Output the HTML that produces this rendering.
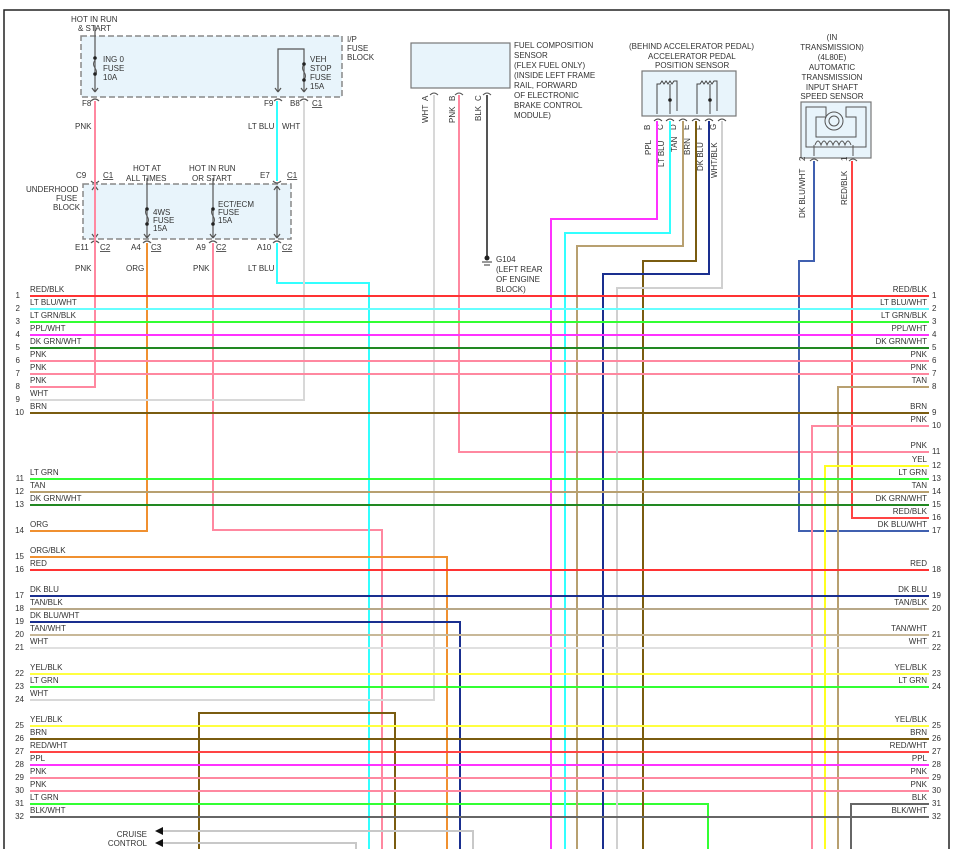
<!DOCTYPE html>
<html><head><meta charset="utf-8"><style>
html,body{margin:0;padding:0;background:#fff;}
svg{display:block;font-family:"Liberation Sans",sans-serif;}
text{fill:#333;font-size:8px;}
.r{text-anchor:end;}
.c{text-anchor:middle;}
</style></head><body>
<svg width="954" height="849" viewBox="0 0 954 849" xmlns="http://www.w3.org/2000/svg">
<rect x="4" y="10" width="945" height="845" fill="none" stroke="#222" stroke-width="1.5"/>

<!-- fuse blocks -->
<rect x="81" y="36" width="261" height="61" fill="#e8f4fb" stroke="#888" stroke-width="1.5" stroke-dasharray="6,3"/>
<rect x="83" y="184" width="208" height="55" fill="#e8f4fb" stroke="#888" stroke-width="1.5" stroke-dasharray="6,3"/>
<g fill="none" stroke="#555" stroke-width="1.2">
<path d="M95 26V92M95 92l-3-4M95 92l3-4"/>
<path d="M278 92V49H304V92M278 92l-3-4M278 92l3-4M304 92l-3-4M304 92l3-4"/>
<path d="M95 186V238M95 186l-3 4M95 186l3 4M95 238l-3-4M95 238l3-4"/>
<path d="M147 178V238M147 238l-3-4M147 238l3-4"/>
<path d="M213 178V238M213 238l-3-4M213 238l3-4"/>
<path d="M277 186V238M277 186l-3 4M277 186l3 4M277 238l-3-4M277 238l3-4"/>
<path d="M91 101q4-4 8 0M274 101q4-4 8 0M300 101q4-4 8 0M91 181q4 4 8 0M273 181q4 4 8 0M91 243q4-4 8 0M143 243q4-4 8 0M209 243q4-4 8 0M273 243q4-4 8 0"/>
</g>
<g fill="#fff" stroke="#555" stroke-width="1">
<path d="M95 60q-3 4 0 8q3 4 0 8" fill="none"/><path d="M304 64q-3 4 0 8q3 4 0 8" fill="none"/>
<path d="M147 208q-3 4 0 8q3 4 0 8" fill="none"/><path d="M213 208q-3 4 0 8q3 4 0 8" fill="none"/>
</g>
<g fill="#222"><circle cx="95" cy="58" r="1.8"/><circle cx="95" cy="74" r="1.8"/><circle cx="304" cy="64" r="1.8"/><circle cx="304" cy="80" r="1.8"/>
<circle cx="147" cy="209" r="1.8"/><circle cx="147" cy="224" r="1.8"/><circle cx="213" cy="209" r="1.8"/><circle cx="213" cy="224" r="1.8"/></g>
<text x="71" y="22">HOT IN RUN</text><text x="78" y="31">&amp; START</text>
<text x="103" y="62">ING 0</text><text x="103" y="71">FUSE</text><text x="103" y="80">10A</text>
<text x="310" y="62">VEH</text><text x="310" y="71">STOP</text><text x="310" y="80">FUSE</text><text x="310" y="89">15A</text>
<text x="347" y="42">I/P</text><text x="347" y="51">FUSE</text><text x="347" y="60">BLOCK</text>
<text x="82" y="106">F8</text><text x="264" y="106">F9</text><text x="290" y="106">B8</text><text x="312" y="106" text-decoration="underline">C1</text>
<text x="75" y="129">PNK</text><text x="248" y="129">LT BLU</text><text x="282" y="129">WHT</text>
<text x="76" y="178">C9</text><text x="103" y="178" text-decoration="underline">C1</text>
<text x="133" y="171">HOT AT</text><text x="126" y="181">ALL TIMES</text>
<text x="189" y="171">HOT IN RUN</text><text x="192" y="181">OR START</text>
<text x="260" y="178">E7</text><text x="287" y="178" text-decoration="underline">C1</text>
<text x="26" y="192">UNDERHOOD</text><text x="56" y="201">FUSE</text><text x="53" y="210">BLOCK</text>
<text x="153" y="215">4WS</text><text x="153" y="223">FUSE</text><text x="153" y="231">15A</text>
<text x="218" y="207">ECT/ECM</text><text x="218" y="215">FUSE</text><text x="218" y="223">15A</text>
<text x="75" y="250">E11</text><text x="100" y="250" text-decoration="underline">C2</text>
<text x="131" y="250">A4</text><text x="151" y="250" text-decoration="underline">C3</text>
<text x="196" y="250">A9</text><text x="216" y="250" text-decoration="underline">C2</text>
<text x="257" y="250">A10</text><text x="282" y="250" text-decoration="underline">C2</text>
<text x="75" y="271">PNK</text><text x="126" y="271">ORG</text><text x="193" y="271">PNK</text><text x="248" y="271">LT BLU</text>

<!-- fuel comp sensor -->
<rect x="411" y="43" width="99" height="45" fill="#e8f4fb" stroke="#777" stroke-width="1.2"/>
<text x="514" y="48">FUEL COMPOSITION</text><text x="514" y="58">SENSOR</text><text x="514" y="68">(FLEX FUEL ONLY)</text>
<text x="514" y="78">(INSIDE LEFT FRAME</text><text x="514" y="88">RAIL, FORWARD</text><text x="514" y="98">OF ELECTRONIC</text>
<text x="514" y="108">BRAKE CONTROL</text><text x="514" y="118">MODULE)</text>
<g fill="none" stroke="#555" stroke-width="1"><path d="M430 95q4-4 8 0M455 95q4-4 8 0M483 95q4-4 8 0"/></g>
<g transform="rotate(-90)"><text x="-123" y="428">WHT</text><text x="-101" y="428">A</text>
<text x="-123" y="455">PNK</text><text x="-101" y="455">B</text>
<text x="-121" y="481">BLK</text><text x="-101" y="481">C</text></g>
<path d="M487 95V256" stroke="#555" stroke-width="2" fill="none"/>
<circle cx="487" cy="258" r="2.5" fill="#222"/><path d="M482 262h10M484 265h6" stroke="#333"/>
<text x="496" y="262">G104</text><text x="496" y="272">(LEFT REAR</text><text x="496" y="282">OF ENGINE</text><text x="496" y="292">BLOCK)</text>

<!-- APP sensor -->
<text x="629" y="49">(BEHIND ACCELERATOR PEDAL)</text>
<text x="648" y="59">ACCELERATOR PEDAL</text><text x="655" y="68">POSITION SENSOR</text>
<rect x="642" y="71" width="94" height="45" fill="#e8f4fb" stroke="#777" stroke-width="1.2"/>
<g fill="none" stroke="#444" stroke-width="1">
<path d="M657 114V84h3l2-3 2 3 2-3 2 3 2-3 2 3 2-3h3v30M670 114V84"/>
<path d="M697 114V84h3l2-3 2 3 2-3 2 3 2-3 2 3 2-3h3v30M710 114V84"/>
<path d="M654 121q4-4 8 0M666 121q4-4 8 0M679 121q4-4 8 0M692 121q4-4 8 0M705 121q4-4 8 0M718 121q4-4 8 0"/>
</g>
<circle cx="670" cy="100" r="1.8" fill="#222"/><circle cx="710" cy="100" r="1.8" fill="#222"/>
<g transform="rotate(-90)"><text x="-130" y="650">B</text><text x="-130" y="663">C</text><text x="-130" y="676">D</text><text x="-130" y="689">E</text><text x="-130" y="702">F</text><text x="-130" y="716">G</text>
<text x="-155" y="651">PPL</text><text x="-167" y="664">LT BLU</text><text x="-152" y="677">TAN</text><text x="-155" y="690">BRN</text><text x="-171" y="703">DK BLU</text><text x="-178" y="717">WHT/BLK</text></g>

<!-- trans sensor -->
<text x="832" y="40" class="c">(IN</text><text x="832" y="50" class="c">TRANSMISSION)</text><text x="832" y="60" class="c">(4L80E)</text>
<text x="832" y="70" class="c">AUTOMATIC</text><text x="832" y="80" class="c">TRANSMISSION</text><text x="832" y="90" class="c">INPUT SHAFT</text><text x="832" y="99" class="c">SPEED SENSOR</text>
<rect x="801" y="102" width="70" height="56" fill="#e8f4fb" stroke="#777" stroke-width="1.2"/>
<g fill="none" stroke="#555" stroke-width="1">
<path d="M806 107h20v10h-10v20h40v-20h-10v-10h20v40h-60z"/>
<circle cx="834" cy="121" r="9"/><circle cx="834" cy="121" r="5"/>
<path d="M815 145q3-8 6 0q3-8 6 0q3-8 6 0q3-8 6 0q3-8 6 0q3-8 6 0"/>
<path d="M814 145V156M853 145V156M810 161q4-4 8 0M849 161q4-4 8 0"/>
</g>
<g transform="rotate(-90)"><text x="-161" y="805">2</text><text x="-161" y="847">1</text>
<text x="-218" y="805">DK BLU/WHT</text><text x="-205" y="847">RED/BLK</text></g>

<!-- vertical wires -->
<g fill="none" stroke-width="2">
<path d="M95 101V387H30" stroke="#ff88a0"/>
<path d="M147 243V531H30" stroke="#f09030"/>
<path d="M213 243V530H382V849" stroke="#ff88a0"/>
<path d="M277 101V181" stroke="#33ffff"/>
<path d="M277 243V283H369V849" stroke="#33ffff"/>
<path d="M304 101V400H30" stroke="#d8d8d8"/>
<path d="M434 95V700H30" stroke="#d8d8d8"/>
<path d="M459 95V452H929" stroke="#ff88a0"/>
<path d="M30 557H447V849" stroke="#f09030"/>
<path d="M30 622H460V849" stroke="#1a2f8f"/>
<path d="M199 849V713H395V849" stroke="#7a5c10"/>
<path d="M160 831H473V849" stroke="#c8c8c8"/>
<path d="M160 843H356V849" stroke="#c8c8c8"/>
<path d="M30 804H708V849" stroke="#33ff33"/>
<path d="M657 121V219H551V849" stroke="#ff33ff"/>
<path d="M670 121V233H565V849" stroke="#33ffff"/>
<path d="M683 121V246H577V849" stroke="#b8a070"/>
<path d="M696 121V261H643V849" stroke="#7a5c10"/>
<path d="M709 121V274H603V849" stroke="#1a2f8f"/>
<path d="M722 121V288H617V849" stroke="#d0d0d0"/>
<path d="M814 161V261H799V531H929" stroke="#4060b0"/>
<path d="M852 161V518H929" stroke="#ff4444"/>
<path d="M929 387H838V849" stroke="#b8a070"/>
<path d="M929 426H812V849" stroke="#ff88a0"/>
<path d="M929 466H825V849" stroke="#ffff20"/>
<path d="M929 804H851V849" stroke="#666"/>
</g>
<path d="M155 831l8-4v8zM155 843l8-4v8z" fill="#111"/>
<text x="147" y="837" class="r">CRUISE</text><text x="147" y="846" class="r">CONTROL</text>

<!-- horizontal bus -->
<g fill="none" stroke-width="2">
<path d="M30 296H929" stroke="#ff3333"/>
<path d="M30 309H929" stroke="#66ffff"/>
<path d="M30 322H929" stroke="#33ff33"/>
<path d="M30 335H929" stroke="#ff33ff"/>
<path d="M30 348H929" stroke="#228822"/>
<path d="M30 361H929" stroke="#ff88a0"/>
<path d="M30 374H929" stroke="#ff88a0"/>
<path d="M30 413H929" stroke="#7a5c10"/>
<path d="M30 479H929" stroke="#33ff33"/>
<path d="M30 492H929" stroke="#b8a070"/>
<path d="M30 505H929" stroke="#228822"/>
<path d="M30 570H929" stroke="#ff3333"/>
<path d="M30 596H929" stroke="#1a2f8f"/>
<path d="M30 609H929" stroke="#b8a888"/>
<path d="M30 635H929" stroke="#c8b898"/>
<path d="M30 648H929" stroke="#e0e0e0"/>
<path d="M30 674H929" stroke="#ffff40"/>
<path d="M30 687H929" stroke="#33ff33"/>
<path d="M30 726H929" stroke="#ffff40"/>
<path d="M30 739H929" stroke="#7a5c10"/>
<path d="M30 752H929" stroke="#ff4444"/>
<path d="M30 765H929" stroke="#ff33ff"/>
<path d="M30 778H929" stroke="#ff88a0"/>
<path d="M30 791H929" stroke="#ff88a0"/>
<path d="M30 817H929" stroke="#666"/>
</g>

<!-- left labels -->
<g>
<text x="20" y="298" class="r">1</text><text x="30" y="292">RED/BLK</text>
<text x="20" y="311" class="r">2</text><text x="30" y="305">LT BLU/WHT</text>
<text x="20" y="324" class="r">3</text><text x="30" y="318">LT GRN/BLK</text>
<text x="20" y="337" class="r">4</text><text x="30" y="331">PPL/WHT</text>
<text x="20" y="350" class="r">5</text><text x="30" y="344">DK GRN/WHT</text>
<text x="20" y="363" class="r">6</text><text x="30" y="357">PNK</text>
<text x="20" y="376" class="r">7</text><text x="30" y="370">PNK</text>
<text x="20" y="389" class="r">8</text><text x="30" y="383">PNK</text>
<text x="20" y="402" class="r">9</text><text x="30" y="396">WHT</text>
<text x="24" y="415" class="r">10</text><text x="30" y="409">BRN</text>
<text x="24" y="481" class="r">11</text><text x="30" y="475">LT GRN</text>
<text x="24" y="494" class="r">12</text><text x="30" y="488">TAN</text>
<text x="24" y="507" class="r">13</text><text x="30" y="501">DK GRN/WHT</text>
<text x="24" y="533" class="r">14</text><text x="30" y="527">ORG</text>
<text x="24" y="559" class="r">15</text><text x="30" y="553">ORG/BLK</text>
<text x="24" y="572" class="r">16</text><text x="30" y="566">RED</text>
<text x="24" y="598" class="r">17</text><text x="30" y="592">DK BLU</text>
<text x="24" y="611" class="r">18</text><text x="30" y="605">TAN/BLK</text>
<text x="24" y="624" class="r">19</text><text x="30" y="618">DK BLU/WHT</text>
<text x="24" y="637" class="r">20</text><text x="30" y="631">TAN/WHT</text>
<text x="24" y="650" class="r">21</text><text x="30" y="644">WHT</text>
<text x="24" y="676" class="r">22</text><text x="30" y="670">YEL/BLK</text>
<text x="24" y="689" class="r">23</text><text x="30" y="683">LT GRN</text>
<text x="24" y="702" class="r">24</text><text x="30" y="696">WHT</text>
<text x="24" y="728" class="r">25</text><text x="30" y="722">YEL/BLK</text>
<text x="24" y="741" class="r">26</text><text x="30" y="735">BRN</text>
<text x="24" y="754" class="r">27</text><text x="30" y="748">RED/WHT</text>
<text x="24" y="767" class="r">28</text><text x="30" y="761">PPL</text>
<text x="24" y="780" class="r">29</text><text x="30" y="774">PNK</text>
<text x="24" y="793" class="r">30</text><text x="30" y="787">PNK</text>
<text x="24" y="806" class="r">31</text><text x="30" y="800">LT GRN</text>
<text x="24" y="819" class="r">32</text><text x="30" y="813">BLK/WHT</text>
</g>
<!-- right labels -->
<g>
<text x="927" y="292" class="r">RED/BLK</text><text x="932" y="298">1</text>
<text x="927" y="305" class="r">LT BLU/WHT</text><text x="932" y="311">2</text>
<text x="927" y="318" class="r">LT GRN/BLK</text><text x="932" y="324">3</text>
<text x="927" y="331" class="r">PPL/WHT</text><text x="932" y="337">4</text>
<text x="927" y="344" class="r">DK GRN/WHT</text><text x="932" y="350">5</text>
<text x="927" y="357" class="r">PNK</text><text x="932" y="363">6</text>
<text x="927" y="370" class="r">PNK</text><text x="932" y="376">7</text>
<text x="927" y="383" class="r">TAN</text><text x="932" y="389">8</text>
<text x="927" y="409" class="r">BRN</text><text x="932" y="415">9</text>
<text x="927" y="422" class="r">PNK</text><text x="932" y="428">10</text>
<text x="927" y="448" class="r">PNK</text><text x="932" y="454">11</text>
<text x="927" y="462" class="r">YEL</text><text x="932" y="468">12</text>
<text x="927" y="475" class="r">LT GRN</text><text x="932" y="481">13</text>
<text x="927" y="488" class="r">TAN</text><text x="932" y="494">14</text>
<text x="927" y="501" class="r">DK GRN/WHT</text><text x="932" y="507">15</text>
<text x="927" y="514" class="r">RED/BLK</text><text x="932" y="520">16</text>
<text x="927" y="527" class="r">DK BLU/WHT</text><text x="932" y="533">17</text>
<text x="927" y="566" class="r">RED</text><text x="932" y="572">18</text>
<text x="927" y="592" class="r">DK BLU</text><text x="932" y="598">19</text>
<text x="927" y="605" class="r">TAN/BLK</text><text x="932" y="611">20</text>
<text x="927" y="631" class="r">TAN/WHT</text><text x="932" y="637">21</text>
<text x="927" y="644" class="r">WHT</text><text x="932" y="650">22</text>
<text x="927" y="670" class="r">YEL/BLK</text><text x="932" y="676">23</text>
<text x="927" y="683" class="r">LT GRN</text><text x="932" y="689">24</text>
<text x="927" y="722" class="r">YEL/BLK</text><text x="932" y="728">25</text>
<text x="927" y="735" class="r">BRN</text><text x="932" y="741">26</text>
<text x="927" y="748" class="r">RED/WHT</text><text x="932" y="754">27</text>
<text x="927" y="761" class="r">PPL</text><text x="932" y="767">28</text>
<text x="927" y="774" class="r">PNK</text><text x="932" y="780">29</text>
<text x="927" y="787" class="r">PNK</text><text x="932" y="793">30</text>
<text x="927" y="800" class="r">BLK</text><text x="932" y="806">31</text>
<text x="927" y="813" class="r">BLK/WHT</text><text x="932" y="819">32</text>
</g>
</svg>
</body></html>
